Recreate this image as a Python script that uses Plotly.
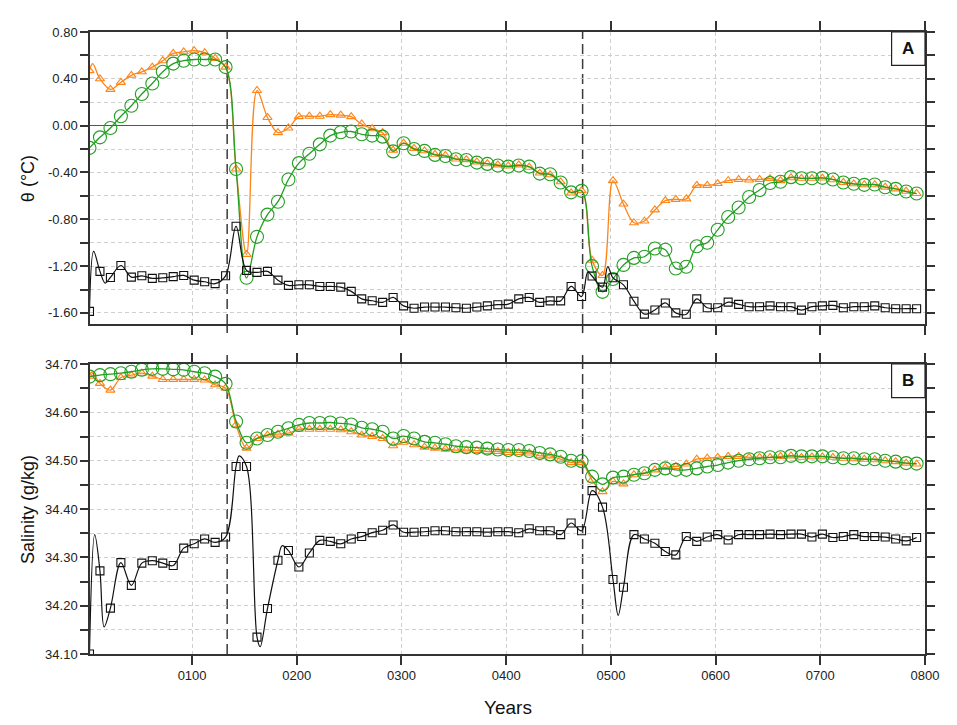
import plotly.graph_objects as go

# ---------------- data ----------------
YEARS = list(range(2, 800, 10))  # marker years (every 10 years)

THETA_ORANGE = [0.47, 0.40, 0.31, 0.37, 0.43, 0.46, 0.50, 0.555, 0.617, 0.63,
                0.64, 0.623, 0.575, 0.50, -0.37, -1.10, 0.30, 0.07, -0.06, -0.02,
                0.077, 0.08, 0.08, 0.094, 0.09, 0.077, 0.014, -0.026, -0.06, -0.21,
                -0.15, -0.195, -0.215, -0.245, -0.255, -0.285, -0.29, -0.31, -0.325, -0.335,
                -0.345, -0.335, -0.355, -0.405, -0.42, -0.48, -0.575, -0.555, -1.15, -1.28,
                -0.47, -0.67, -0.83, -0.815, -0.72, -0.64, -0.63, -0.626, -0.51, -0.51,
                -0.495, -0.469, -0.46, -0.464, -0.46, -0.452, -0.47, -0.445, -0.45, -0.45,
                -0.448, -0.462, -0.485, -0.497, -0.505, -0.505, -0.525, -0.54, -0.56, -0.58]
THETA_GREEN = [-0.19, -0.10, -0.02, 0.08, 0.17, 0.27, 0.36, 0.46, 0.53, 0.555,
               0.565, 0.565, 0.565, 0.50, -0.37, -1.30, -0.95, -0.76, -0.65, -0.46,
               -0.32, -0.24, -0.16, -0.085, -0.057, -0.05, -0.074, -0.085, -0.094, -0.22,
               -0.15, -0.20, -0.216, -0.25, -0.26, -0.287, -0.293, -0.316, -0.327, -0.34,
               -0.35, -0.34, -0.35, -0.41, -0.415, -0.486, -0.57, -0.557, -1.20, -1.42,
               -1.31, -1.19, -1.13, -1.12, -1.05, -1.06, -1.22, -1.205, -1.03, -1.00,
               -0.89, -0.78, -0.70, -0.61, -0.55, -0.49, -0.48, -0.44, -0.45, -0.45,
               -0.446, -0.46, -0.486, -0.497, -0.506, -0.503, -0.526, -0.54, -0.563, -0.58]
THETA_BLACK = [-1.587, -1.245, -1.297, -1.195, -1.294, -1.283, -1.305, -1.30, -1.29, -1.28,
               -1.32, -1.334, -1.35, -1.283, -0.86, -1.237, -1.254, -1.245, -1.32, -1.365,
               -1.36, -1.36, -1.374, -1.374, -1.38, -1.416, -1.48, -1.496, -1.51, -1.468,
               -1.54, -1.56, -1.55, -1.55, -1.55, -1.556, -1.56, -1.55, -1.54, -1.53,
               -1.525, -1.48, -1.468, -1.51, -1.497, -1.497, -1.374, -1.46, -1.285, -1.38,
               -1.30, -1.36, -1.50, -1.61, -1.575, -1.515, -1.60, -1.612, -1.48, -1.556,
               -1.556, -1.508, -1.527, -1.547, -1.547, -1.54, -1.547, -1.547, -1.576, -1.547,
               -1.54, -1.536, -1.556, -1.547, -1.547, -1.54, -1.556, -1.564, -1.564, -1.564]

SAL_ORANGE = [34.675, 34.660, 34.646, 34.672, 34.677, 34.681, 34.675, 34.668, 34.668, 34.668,
              34.668, 34.667, 34.657, 34.650, 34.574, 34.526, 34.546, 34.553, 34.555, 34.557,
              34.565, 34.565, 34.565, 34.565, 34.564, 34.560, 34.553, 34.550, 34.546, 34.531,
              34.538, 34.533, 34.528, 34.526, 34.524, 34.522, 34.522, 34.521, 34.519, 34.519,
              34.517, 34.517, 34.516, 34.510, 34.510, 34.503, 34.496, 34.496, 34.460, 34.436,
              34.457, 34.452, 34.471, 34.474, 34.481, 34.486, 34.488, 34.493, 34.503, 34.505,
              34.507, 34.509, 34.509, 34.507, 34.507, 34.507, 34.509, 34.510, 34.507, 34.508,
              34.508, 34.507, 34.505, 34.504, 34.503, 34.502, 34.500, 34.498, 34.495, 34.493]
SAL_GREEN = [34.674, 34.677, 34.679, 34.681, 34.684, 34.688, 34.690, 34.690, 34.689, 34.688,
             34.684, 34.681, 34.674, 34.659, 34.581, 34.537, 34.546, 34.553, 34.560, 34.567,
             34.574, 34.578, 34.578, 34.579, 34.577, 34.575, 34.568, 34.565, 34.560, 34.546,
             34.551, 34.546, 34.539, 34.537, 34.534, 34.530, 34.528, 34.527, 34.525, 34.523,
             34.522, 34.522, 34.520, 34.516, 34.513, 34.508, 34.500, 34.499, 34.467, 34.451,
             34.465, 34.467, 34.471, 34.474, 34.481, 34.484, 34.481, 34.481, 34.484, 34.488,
             34.491, 34.496, 34.500, 34.503, 34.505, 34.507, 34.507, 34.510, 34.509, 34.509,
             34.509, 34.507, 34.505, 34.505, 34.503, 34.503, 34.500, 34.498, 34.495, 34.494]
SAL_BLACK = [34.100, 34.272, 34.195, 34.289, 34.242, 34.288, 34.293, 34.288, 34.283, 34.319,
             34.328, 34.338, 34.331, 34.342, 34.488, 34.488, 34.135, 34.194, 34.294, 34.314,
             34.280, 34.309, 34.335, 34.333, 34.328, 34.338, 34.343, 34.351, 34.356, 34.367,
             34.352, 34.352, 34.353, 34.355, 34.355, 34.353, 34.353, 34.353, 34.352, 34.353,
             34.353, 34.351, 34.359, 34.355, 34.355, 34.347, 34.371, 34.355, 34.438, 34.404,
             34.254, 34.238, 34.347, 34.338, 34.329, 34.312, 34.305, 34.343, 34.333, 34.342,
             34.347, 34.336, 34.347, 34.347, 34.347, 34.348, 34.347, 34.348, 34.348, 34.342,
             34.348, 34.341, 34.343, 34.347, 34.343, 34.343, 34.342, 34.338, 34.334, 34.341]

# extra line-only points (peaks/troughs between markers)
THETA_ORANGE_EXTRA_X = [5]
THETA_ORANGE_EXTRA_Y = [0.53]
THETA_BLACK_EXTRA_X = [6, 17, 478, 497]
THETA_BLACK_EXTRA_Y = [-1.075, -1.345, -1.25, -1.205]
SAL_ORANGE_EXTRA_X = [4]
SAL_ORANGE_EXTRA_Y = [34.683]
SAL_BLACK_EXTRA_X = [7, 16, 145, 165, 186, 507]
SAL_BLACK_EXTRA_Y = [34.347, 34.156, 34.51, 34.115, 34.324, 34.18]

EVENT_YEARS = [133.5, 473]
X_TICKS = [100, 200, 300, 400, 500, 600, 700, 800]
X_TICK_TEXT = ["0100", "0200", "0300", "0400", "0500", "0600", "0700", "0800"]
THETA_TICKS = [-1.6, -1.4, -1.2, -1.0, -0.8, -0.6, -0.4, -0.2, 0.0, 0.2, 0.4, 0.6, 0.8]
THETA_TICK_TEXT = ["-1.60", "", "-1.20", "", "-0.80", "", "-0.40", "", "0.00", "", "0.40", "", "0.80"]
SAL_TICKS = [34.10, 34.15, 34.20, 34.25, 34.30, 34.35, 34.40, 34.45, 34.50, 34.55, 34.60, 34.65, 34.70]
SAL_TICK_TEXT = ["34.10", "", "34.20", "", "34.30", "", "34.40", "", "34.50", "", "34.60", "", "34.70"]

ORANGE = "#ff8519"
GREEN = "#229f22"
BLACK = "#111111"
FONT = "Liberation Sans, Arial, sans-serif"


def merged(xs, ys, ex_x, ex_y):
    pts = sorted(zip(list(xs) + list(ex_x), list(ys) + list(ex_y)))
    return [p[0] for p in pts], [p[1] for p in pts]


fig = go.Figure()

series = [
    ("x", "y", THETA_ORANGE, THETA_ORANGE_EXTRA_X, THETA_ORANGE_EXTRA_Y, ORANGE, "triangle-up-open", 8, 1.3),
    ("x", "y", THETA_GREEN, [], [], GREEN, "circle-open", 13, 1.3),
    ("x", "y", THETA_BLACK, THETA_BLACK_EXTRA_X, THETA_BLACK_EXTRA_Y, BLACK, "square-open", 8, 1.2),
    ("x2", "y2", SAL_ORANGE, SAL_ORANGE_EXTRA_X, SAL_ORANGE_EXTRA_Y, ORANGE, "triangle-up-open", 8, 1.3),
    ("x2", "y2", SAL_GREEN, [], [], GREEN, "circle-open", 13, 1.3),
    ("x2", "y2", SAL_BLACK, SAL_BLACK_EXTRA_X, SAL_BLACK_EXTRA_Y, BLACK, "square-open", 8, 1.2),
]
for xa, ya, vals, exx, exy, col, sym, msize, lw in series:
    lx, ly = merged(YEARS, vals, exx, exy)
    fig.add_trace(go.Scatter(x=lx, y=ly, mode="lines", xaxis=xa, yaxis=ya,
                             line=dict(color=col, width=lw, shape="spline", smoothing=1.0),
                             showlegend=False, hoverinfo="skip"))
    fig.add_trace(go.Scatter(x=YEARS, y=vals, mode="markers", xaxis=xa, yaxis=ya,
                             marker=dict(symbol=sym, size=msize, color=col, line=dict(width=1.1, color=col)),
                             showlegend=False))

TICKFONT = dict(family=FONT, size=13, color="#222")
x_common = dict(range=[2.5, 800], tickvals=X_TICKS, showgrid=True, gridcolor="#cfcfcf",
                griddash="4px,3px", gridwidth=1, showline=True, linecolor="#333", linewidth=1.5,
                mirror="ticks", ticks="outside", ticklen=9, tickwidth=1.5, tickcolor="#333",
                zeroline=False, tickfont=TICKFONT)

fig.update_layout(
    width=957, height=725, autosize=False,
    margin=dict(l=90, r=32, t=32, b=71),
    paper_bgcolor="white", plot_bgcolor="white",
    font=dict(family=FONT, color="#222"),
    xaxis=dict(x_common, anchor="y", showticklabels=False, matches="x2"),
    xaxis2=dict(x_common, anchor="y2", ticktext=X_TICK_TEXT),
    yaxis=dict(domain=[0.5305, 1.0], range=[-1.695, 0.80], tickvals=THETA_TICKS, ticktext=THETA_TICK_TEXT,
               showgrid=True, gridcolor="#cfcfcf", griddash="4px,3px", showline=True, linecolor="#333",
               linewidth=1.5, mirror="ticks", ticks="outside", ticklen=8, tickwidth=1.5, tickcolor="#333",
               zeroline=True, zerolinecolor="#555", zerolinewidth=1.2,
               tickfont=TICKFONT, anchor="x"),
    yaxis2=dict(domain=[0.0, 0.4662], range=[34.10, 34.70], tickvals=SAL_TICKS, ticktext=SAL_TICK_TEXT,
                showgrid=True, gridcolor="#cfcfcf", griddash="4px,3px", showline=True, linecolor="#333",
                linewidth=1.5, mirror="ticks", ticks="outside", ticklen=8, tickwidth=1.5, tickcolor="#333",
                zeroline=False, tickfont=TICKFONT, anchor="x2"),
)

shapes = []
for xr, yr in (("x", "y"), ("x2", "y2")):
    for ev in EVENT_YEARS:
        shapes.append(dict(type="line", xref=xr, yref=yr + " domain", x0=ev, x1=ev, y0=0, y1=1,
                           line=dict(color="#3a3a3a", width=1.5, dash="10px,5px"), layer="below"))
    # dotted look for the right border
    shapes.append(dict(type="line", xref=xr, yref=yr + " domain", x0=800, x1=800, y0=0, y1=1,
                       line=dict(color="white", width=2, dash="2px,2px"), layer="above"))
# short ticks of the event lines at the inner panel edges
for ev in EVENT_YEARS:
    shapes.append(dict(type="line", xref="x", yref="y domain", x0=ev, x1=ev, y0=-0.031, y1=0,
                       line=dict(color="#333", width=1.5)))
    shapes.append(dict(type="line", xref="x2", yref="y2 domain", x0=ev, x1=ev, y0=1, y1=1.031,
                       line=dict(color="#333", width=1.5)))
# panel label boxes
for xr, yr, h in (("x", "y", 0.114), ("x2", "y2", 0.116)):
    shapes.append(dict(type="rect", xref=xr + " domain", yref=yr + " domain", x0=0.960, x1=1.0,
                       y0=1 - h, y1=1.0, line=dict(color="#222", width=1.2), fillcolor="white",
                       layer="above"))
fig.update_layout(shapes=shapes)

annotations = [
    dict(text="<b>A</b>", xref="x domain", yref="y domain", x=0.980, y=1 - 0.057, showarrow=False,
         font=dict(family=FONT, size=17, color="#111"), xanchor="center", yanchor="middle"),
    dict(text="<b>B</b>", xref="x2 domain", yref="y2 domain", x=0.980, y=1 - 0.058, showarrow=False,
         font=dict(family=FONT, size=17, color="#111"), xanchor="center", yanchor="middle"),
    dict(text="θ (°C)", xref="paper", yref="paper", x=-0.0743, y=0.765, textangle=-90, showarrow=False,
         font=dict(family=FONT, size=18, color="#111"), xanchor="center", yanchor="middle"),
    dict(text="Salinity (g/kg)", xref="paper", yref="paper", x=-0.0743, y=0.233, textangle=-90,
         showarrow=False, font=dict(family=FONT, size=18, color="#111"), xanchor="center", yanchor="middle"),
    dict(text="Years", xref="paper", yref="paper", x=0.5003, y=-0.0863, showarrow=False,
         font=dict(family=FONT, size=19, color="#111"), xanchor="center", yanchor="middle"),
]
fig.update_layout(annotations=annotations)

fig.write_html("out.html", config={"displayModeBar": False},
               post_script="document.body.style.margin='0px';")
